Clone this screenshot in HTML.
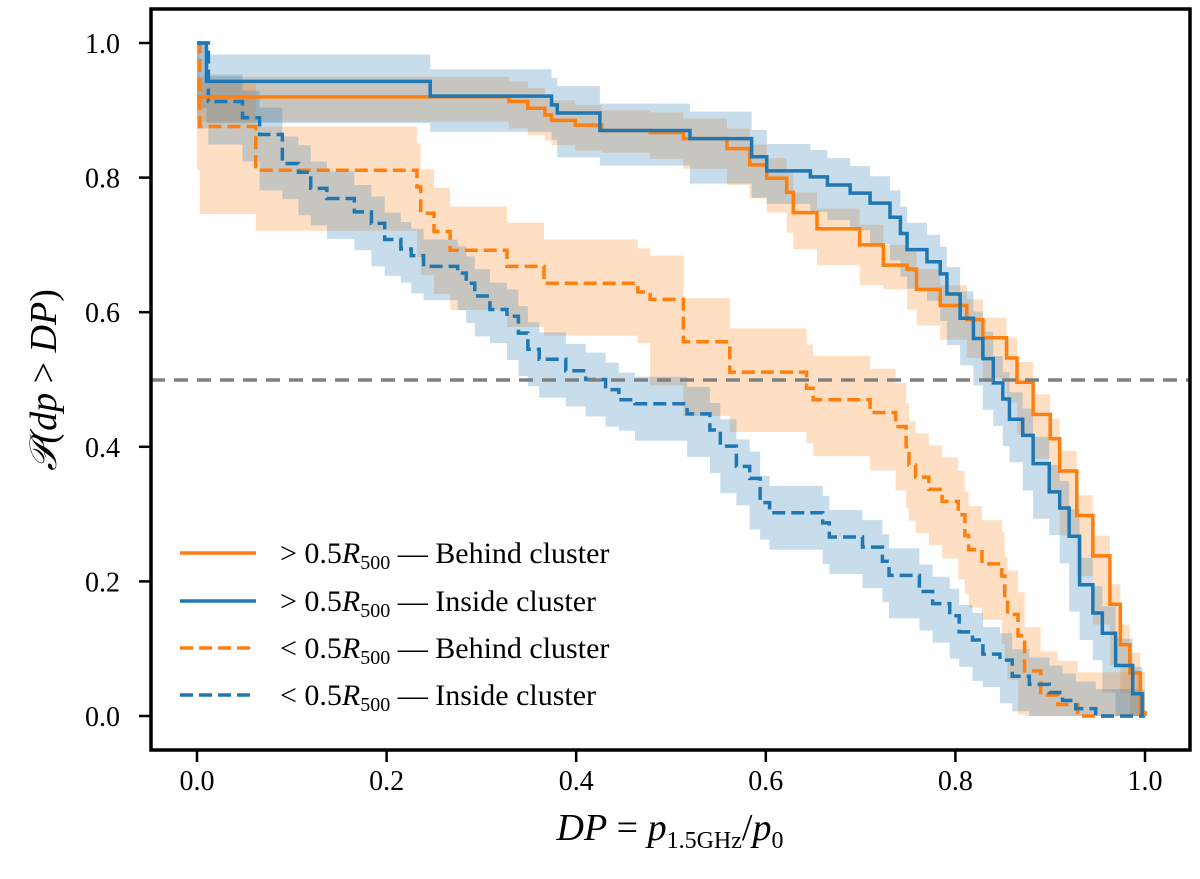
<!DOCTYPE html>
<html><head><meta charset="utf-8"><style>
body{margin:0;background:#fff}
svg text{font-family:"Liberation Serif",serif}
</style></head><body>
<svg id="c" width="1200" height="874" xmlns="http://www.w3.org/2000/svg">
<g id="bands"></g><g id="lines"></g>
<line x1="151" y1="380" x2="1190" y2="380" stroke="#808080" stroke-width="3.5" stroke-dasharray="14,9"/>
<rect x="151" y="9" width="1039" height="741" fill="none" stroke="#000" stroke-width="3.5"/>
<g id="axes"></g>
<g font-size="30">
<line x1="180" y1="553" x2="256" y2="553" stroke="#ff7f0e" stroke-width="3.5"/>
<text x="280" y="563">&gt; 0.5<tspan font-style="italic">R</tspan><tspan font-size="20" dy="6">500</tspan><tspan dy="-6"> — Behind cluster</tspan></text>
<line x1="180" y1="601" x2="256" y2="601" stroke="#1f77b4" stroke-width="3.5"/>
<text x="280" y="611">&gt; 0.5<tspan font-style="italic">R</tspan><tspan font-size="20" dy="6">500</tspan><tspan dy="-6"> — Inside cluster</tspan></text>
<line x1="180" y1="648" x2="256" y2="648" stroke="#ff7f0e" stroke-width="3.5" stroke-dasharray="13,6"/>
<text x="280" y="658">&lt; 0.5<tspan font-style="italic">R</tspan><tspan font-size="20" dy="6">500</tspan><tspan dy="-6"> — Behind cluster</tspan></text>
<line x1="180" y1="695" x2="256" y2="695" stroke="#1f77b4" stroke-width="3.5" stroke-dasharray="13,6"/>
<text x="280" y="705">&lt; 0.5<tspan font-style="italic">R</tspan><tspan font-size="20" dy="6">500</tspan><tspan dy="-6"> — Inside cluster</tspan></text>
</g>
<text x="670" y="840" font-size="38" text-anchor="middle"><tspan font-style="italic">DP</tspan> = <tspan font-style="italic">p</tspan><tspan font-size="24" dy="8">1.5GHz</tspan><tspan dy="-8">/</tspan><tspan font-style="italic">p</tspan><tspan font-size="24" dy="8">0</tspan></text>
<text transform="translate(56,380) rotate(-90)" font-size="38" text-anchor="middle"><tspan font-style="italic">𝒫(dp</tspan> &gt; <tspan font-style="italic">DP</tspan>)</text>
</svg>
<script>
const xTicks=[0,0.2,0.4,0.6,0.8,1.0];
const yTicks=[0,0.2,0.4,0.6,0.8,1.0];
const obX=[0,.329,.349,.367,.374,.399,.427,.478,.513,.559,.583,.601,.622,.629,.654,.699,.724,.749,.759,.784,.812,.829,.854,.865,.882,.900,.910,.928,.945,.963,.974,.984,.995,1.0];
const obY=[.92,.913,.903,.893,.885,.878,.870,.867,.858,.843,.819,.799,.778,.748,.724,.700,.670,.664,.634,.610,.589,.562,.532,.496,.448,.412,.364,.298,.238,.166,.106,.064,.005,0];
const obE=0.03;
const ibX=[0,.010,.246,.374,.380,.425,.52,.585,.601,.647,.665,.689,.710,.731,.742,.749,.770,.784,.791,.805,.819,.829,.840,.850,.857,.871,.882,.899,.910,.920,.931,.945,.955,.969,.987,.997];
const ibY=[1.0,.943,.921,.908,.896,.870,.858,.831,.810,.801,.789,.777,.762,.741,.717,.693,.675,.657,.627,.591,.561,.531,.495,.471,.441,.417,.375,.333,.309,.267,.195,.153,.123,.075,.033,0];
const ibE=0.04;
const odX=[0,.003,.062,.232,.236,.25,.267,.327,.366,.465,.478,.513,.562,.643,.650,.710,.737,.748,.751,.758,.772,.786,.803,.810,.814,.828,.849,.852,.855,.866,.873,.890,.908,.929,1.0];
const odY=[1.0,.876,.811,.786,.747,.720,.692,.668,.643,.630,.619,.556,.511,.487,.470,.451,.430,.400,.373,.355,.337,.319,.299,.268,.247,.226,.208,.172,.151,.119,.067,.031,.017,0,0];
const odE=0.065;
const idX=[0,.012,.048,.066,.09,.107,.12,.137,.166,.184,.198,.215,.226,.239,.275,.284,.293,.309,.327,.339,.349,.361,.389,.41,.431,.445,.462,.517,.541,.552,.569,.583,.594,.604,.660,.667,.702,.723,.730,.762,.776,.794,.804,.818,.829,.847,.860,.878,.899,.913,.927,.948,1.0];
const idY=[1.0,.913,.889,.864,.821,.808,.784,.769,.749,.732,.708,.694,.684,.668,.658,.643,.624,.604,.594,.569,.545,.530,.513,.500,.485,.470,.464,.449,.425,.401,.371,.353,.317,.302,.287,.266,.251,.230,.209,.185,.167,.149,.125,.113,.092,.083,.059,.047,.035,.023,.011,0,0];
const idE=0.04;
const X=v=>197+v*948, Y=v=>716-v*673;
const NS='http://www.w3.org/2000/svg';
function mk(t,a,p){const e=document.createElementNS(NS,t);for(const k in a)e.setAttribute(k,a[k]);p.appendChild(e);return e;}
function stepPath(xs,ys){let d='M'+X(xs[0])+','+Y(ys[0]);for(let i=1;i<xs.length;i++){d+='H'+X(xs[i])+'V'+Y(ys[i]);}return d;}
function band(xs,ys,e,col,name){const up=ys.map(v=>Math.min(1,v+e)),lo=ys.map(v=>Math.max(0,v-e));
 let d='M'+X(xs[0])+','+Y(up[0]);for(let i=1;i<xs.length;i++)d+='H'+X(xs[i])+'V'+Y(up[i]);
 d+='V'+Y(lo[xs.length-1]);for(let i=xs.length-1;i>0;i--)d+='V'+Y(lo[i])+'H'+X(xs[i-1]);d+='V'+Y(lo[0])+'Z';
 const p=mk('path',{d:d,fill:col,'fill-opacity':0.25},document.getElementById('bands'));
 
 }
function line(xs,ys,col,dash,name){const p=mk('path',{d:stepPath(xs,ys),fill:'none',stroke:col,'stroke-width':3.5,'stroke-dasharray':dash},document.getElementById('lines'));
 
 }
band(obX,obY,obE,'#ff7f0e','band-outer-behind');band(ibX,ibY,ibE,'#1f77b4','band-outer-inside');
band(odX,odY,odE,'#ff7f0e','band-inner-behind');band(idX,idY,idE,'#1f77b4','band-inner-inside');
line(odX,odY,'#ff7f0e','13,6','line-inner-behind');line(idX,idY,'#1f77b4','13,6','line-inner-inside');
line(obX,obY,'#ff7f0e','none','line-outer-behind');line(ibX,ibY,'#1f77b4','none','line-outer-inside');
const ax=document.getElementById('axes');
xTicks.forEach(v=>{mk('line',{x1:X(v),x2:X(v),y1:750,y2:762,stroke:'#000','stroke-width':2.5},ax);
 const t=mk('text',{x:X(v),y:790,'font-size':28,'text-anchor':'middle'},ax);t.textContent=v.toFixed(1);
 
 });
yTicks.forEach(v=>{mk('line',{x1:139,x2:151,y1:Y(v),y2:Y(v),stroke:'#000','stroke-width':2.5},ax);
 const t=mk('text',{x:120,y:Y(v)+10,'font-size':28,'text-anchor':'end'},ax);t.textContent=v.toFixed(1);
 
 });
</script>
</body></html>
